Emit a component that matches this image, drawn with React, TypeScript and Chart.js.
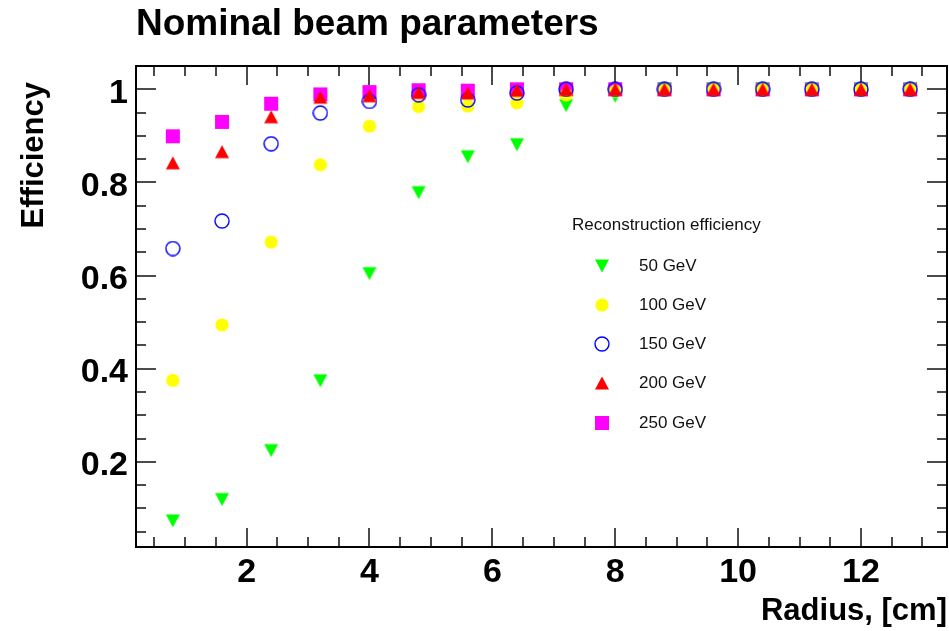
import React, { useEffect, useRef } from "react";
import { Chart, registerables } from "chart.js";

Chart.register(...registerables);

// Radial position of the sampling points, cm
const RADIUS_CM = [0.8, 1.6, 2.4, 3.2, 4.0, 4.8, 5.6, 6.4, 7.2, 8.0, 8.8, 9.6, 10.4, 11.2, 12.0, 12.8];

// Reconstruction efficiency per beam energy
const EFF_50 = [0.073, 0.119, 0.224, 0.374, 0.604, 0.778, 0.855, 0.881, 0.965, 0.985, 1, 1, 1, 1, 1, 1];
const EFF_100 = [0.375, 0.494, 0.672, 0.838, 0.921, 0.963, 0.964, 0.971, 0.988, 0.996, 0.998, 1, 1, 1, 1, 1];
const EFF_150 = [0.658, 0.717, 0.883, 0.949, 0.974, 0.988, 0.977, 0.992, 1, 1, 1, 1, 1, 1, 1, 1];
const EFF_200 = [0.842, 0.866, 0.941, 0.983, 0.986, 0.993, 0.992, 0.998, 1, 1, 1, 1, 1, 1, 1, 1];
const EFF_250 = [0.899, 0.93, 0.969, 0.989, 0.994, 0.998, 0.997, 1, 1, 1, 1, 1, 1, 1, 1, 1];

const SERIES_LABELS = ["50 GeV", "100 GeV", "150 GeV", "200 GeV", "250 GeV"];

const X_TICKS = [2, 4, 6, 8, 10, 12];
const Y_TICKS = [0.2, 0.4, 0.6, 0.8, 1];
const X_RANGE = [0.2, 13.4];
const Y_RANGE = [0.017, 1.05];
const X_MINOR_STEP = 0.5;
const Y_MINOR_STEP = 0.05;

const TITLE = "Nominal beam parameters";
const X_TITLE = "Radius, [cm]";
const Y_TITLE = "Efficiency";
const LEGEND_HEADER = "Reconstruction efficiency";

const FONT = '"Liberation Sans", Arial, Helvetica, sans-serif';

type MarkerKind = "triDown" | "triUp" | "disc" | "ring" | "square";

// Small bitmap markers, centred on their bounding box
function makeMarker(kind: MarkerKind, color: string): HTMLCanvasElement {
  const c = document.createElement("canvas");
  c.width = 16;
  c.height = 16;
  const g = c.getContext("2d")!;
  g.fillStyle = color;
  g.strokeStyle = color;
  g.beginPath();
  switch (kind) {
    case "triDown":
      g.moveTo(1, 1.5);
      g.lineTo(15, 1.5);
      g.lineTo(8, 14.5);
      g.closePath();
      g.fill();
      break;
    case "triUp":
      g.moveTo(1, 14.5);
      g.lineTo(15, 14.5);
      g.lineTo(8, 1.5);
      g.closePath();
      g.fill();
      break;
    case "disc":
      g.arc(8, 8, 6.6, 0, Math.PI * 2);
      g.fill();
      break;
    case "ring":
      g.lineWidth = 1.4;
      g.arc(8, 8, 7, 0, Math.PI * 2);
      g.stroke();
      break;
    case "square":
      g.fillRect(1, 1, 14, 14);
      break;
  }
  return c;
}

function isOnGrid(v: number, list: number[]) {
  return list.some((t) => Math.abs(t - v) < 1e-6);
}

const frameAndTicks = {
  id: "frameAndTicks",
  beforeDatasetsDraw(chart: any) {
    const { ctx, chartArea: a, scales } = chart;
    const xs = scales.x;
    const ys = scales.y;
    ctx.save();
    ctx.strokeStyle = "#111";
    ctx.lineWidth = 1.5;
    ctx.beginPath();
    for (let k = Math.ceil(X_RANGE[0] / X_MINOR_STEP); k * X_MINOR_STEP <= X_RANGE[1] + 1e-9; k++) {
      const v = k * X_MINOR_STEP;
      const len = isOnGrid(v, X_TICKS) ? 19 : 10;
      const px = Math.round(xs.getPixelForValue(v));
      ctx.moveTo(px, a.bottom);
      ctx.lineTo(px, a.bottom - len);
      ctx.moveTo(px, a.top);
      ctx.lineTo(px, a.top + len);
    }
    for (let k = Math.ceil(Y_RANGE[0] / Y_MINOR_STEP); k * Y_MINOR_STEP <= Y_RANGE[1] + 1e-9; k++) {
      const v = k * Y_MINOR_STEP;
      const len = isOnGrid(v, Y_TICKS) ? 20 : 10;
      const py = Math.round(ys.getPixelForValue(v));
      ctx.moveTo(a.left, py);
      ctx.lineTo(a.left + len, py);
      ctx.moveTo(a.right, py);
      ctx.lineTo(a.right - len, py);
    }
    ctx.stroke();
    ctx.strokeStyle = "#000";
    ctx.lineWidth = 2;
    ctx.strokeRect(a.left, a.top, a.right - a.left, a.bottom - a.top);
    ctx.restore();
  },
};

const titlesAndLegend = {
  id: "titlesAndLegend",
  afterDraw(chart: any) {
    const { ctx } = chart;
    ctx.save();
    ctx.fillStyle = "#000";
    ctx.textBaseline = "alphabetic";

    ctx.font = `bold 37px ${FONT}`;
    ctx.textAlign = "left";
    ctx.fillText(TITLE, 136, 35);

    ctx.font = `bold 31px ${FONT}`;
    ctx.textAlign = "right";
    ctx.fillText(X_TITLE, 947, 620);

    ctx.save();
    ctx.translate(43, 82);
    ctx.rotate(-Math.PI / 2);
    ctx.textAlign = "right";
    ctx.font = `bold 31px ${FONT}`;
    ctx.fillText(Y_TITLE, 0, 0);
    ctx.restore();

    // legend box contents
    ctx.font = `17px ${FONT}`;
    ctx.textAlign = "left";
    ctx.textBaseline = "middle";
    ctx.fillStyle = "#111";
    ctx.fillText(LEGEND_HEADER, 572, 225);
    chart.data.datasets.forEach((ds: any, i: number) => {
      const row = Math.round(265.5 + i * 39.3);
      const img = ds.pointStyle as HTMLCanvasElement;
      ctx.drawImage(img, 602 - img.width / 2, row - img.height / 2);
      ctx.fillText(ds.label, 639, row);
    });
    ctx.restore();
  },
};

export default function App() {
  const canvasRef = useRef<HTMLCanvasElement | null>(null);

  useEffect(() => {
    const canvas = canvasRef.current;
    if (!canvas) return;

    const series = [
      { values: EFF_50, marker: makeMarker("triDown", "#00ff00"), order: 3 },
      { values: EFF_100, marker: makeMarker("disc", "#ffff00"), order: 2 },
      { values: EFF_150, marker: makeMarker("ring", "#0000ff"), order: 1 },
      { values: EFF_200, marker: makeMarker("triUp", "#ff0000"), order: 0 },
      { values: EFF_250, marker: makeMarker("square", "#ff00ff"), order: 4 },
    ];

    const tickFont = { family: FONT, size: 34, weight: "bold" as const };

    const chart = new Chart(canvas, {
      type: "scatter",
      data: {
        datasets: series.map((s, i) => ({
          label: SERIES_LABELS[i],
          data: RADIUS_CM.map((x, j) => ({ x, y: s.values[j] })),
          pointStyle: s.marker,
          pointRadius: 8,
          showLine: false,
          order: s.order,
        })),
      },
      options: {
        responsive: false,
        animation: false,
        events: [],
        layout: { autoPadding: false, padding: { left: 0, right: 2, top: 66, bottom: 0 } },
        plugins: {
          legend: { display: false },
          tooltip: { enabled: false },
          title: { display: false },
        },
        scales: {
          x: {
            type: "linear",
            min: X_RANGE[0],
            max: X_RANGE[1],
            grid: { display: false, drawTicks: false },
            border: { display: false },
            afterBuildTicks: (s: any) => {
              s.ticks = X_TICKS.map((value) => ({ value }));
            },
            afterFit: (s: any) => {
              s.height = 84;
              s.paddingLeft = 0;
              s.paddingRight = 0;
            },
            ticks: {
              color: "#000",
              font: tickFont,
              padding: 5,
              maxRotation: 0,
              autoSkip: false,
              callback: (v: any) => String(v),
            },
          },
          y: {
            type: "linear",
            min: Y_RANGE[0],
            max: Y_RANGE[1],
            grid: { display: false, drawTicks: false },
            border: { display: false },
            afterBuildTicks: (s: any) => {
              s.ticks = Y_TICKS.map((value) => ({ value }));
            },
            afterFit: (s: any) => {
              s.width = 136;
              s.paddingTop = 0;
              s.paddingBottom = 0;
            },
            ticks: {
              color: "#000",
              font: tickFont,
              padding: 8,
              labelOffset: 4,
              autoSkip: false,
              callback: (v: any) => String(Math.round(Number(v) * 10) / 10),
            },
          },
        },
      },
      plugins: [frameAndTicks, titlesAndLegend],
    });

    return () => chart.destroy();
  }, []);

  return (
    <div style={{ position: "absolute", left: 0, top: 0, width: 949, height: 631, background: "#fff" }}>
      <canvas ref={canvasRef} width={949} height={631} style={{ display: "block" }} />
    </div>
  );
}
